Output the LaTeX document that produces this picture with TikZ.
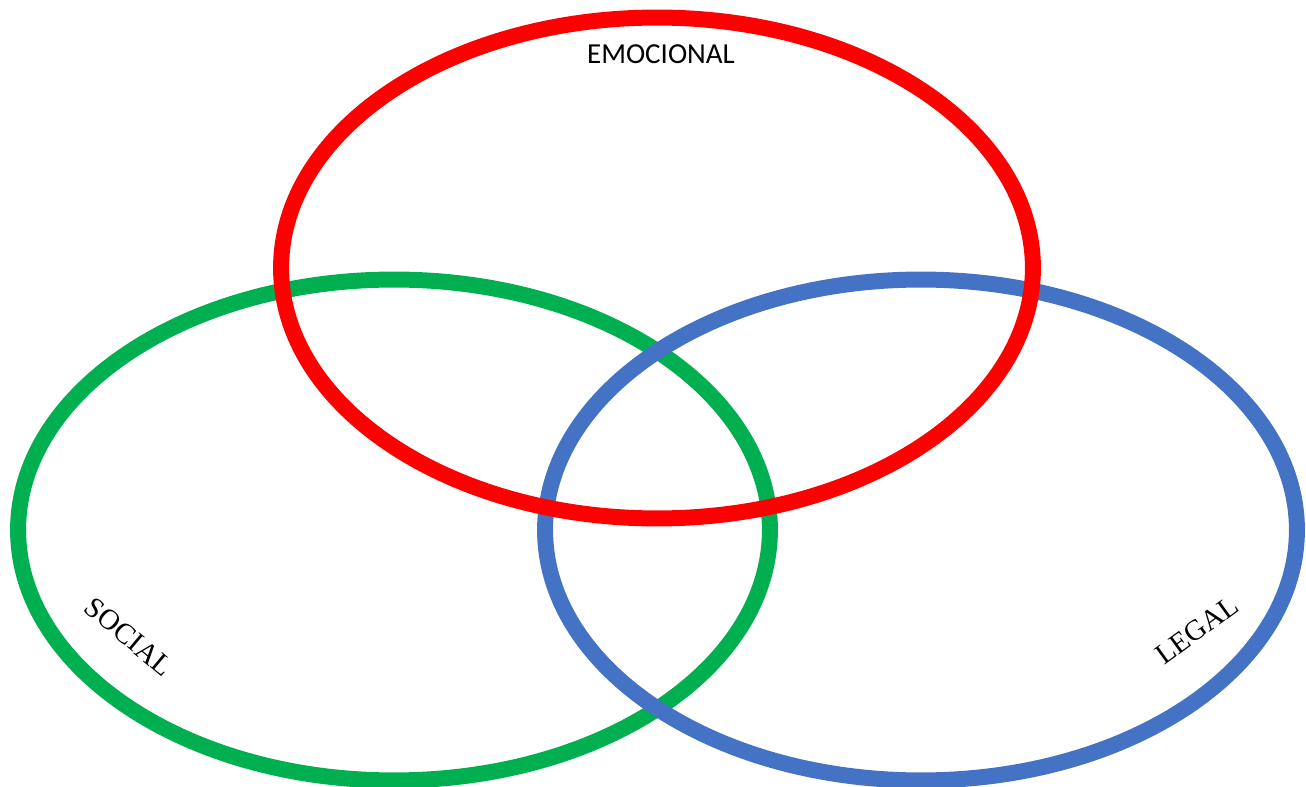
\documentclass[tikz,border=0pt]{standalone}
\usepackage{fontspec}
\setmainfont{Liberation Serif}
\newfontfamily\labelsans{Carlito}
\usetikzlibrary{shapes.geometric,positioning}
\definecolor{ringred}{HTML}{FF0000}
\definecolor{ringgreen}{HTML}{00B050}
\definecolor{ringblue}{HTML}{4472C4}

\begin{document}
\begin{tikzpicture}[
  x=0.02cm, y=-0.02cm,
  ring/.style={draw=#1, ellipse, line width=0.32cm,
    minimum width=15.04cm, minimum height=10.02cm, inner sep=0pt},
  toplabel/.style={font=\labelsans\fontsize{16.5}{18}\selectfont},
  sidelabel/.style={font=\fontsize{16.5}{18}\selectfont, inner sep=0pt}
]
  \useasboundingbox (0,0) rectangle (1306,787);

  \node[ring=ringgreen] (social) at (394,530) {};
  \node[ring=ringblue] (legal) at (921,530) {};
  \node[ring=ringred] (emocional) at (657,268) {};

  \node[toplabel] (emocionaltxt) at (661,54) {EMOCIONAL};
  \node[sidelabel, rotate=-40] (socialtxt) at (129,637) {SOCIAL};
  \node[sidelabel, rotate=36] (legaltxt) at (1197,630) {LEGAL};
\end{tikzpicture}
\end{document}
